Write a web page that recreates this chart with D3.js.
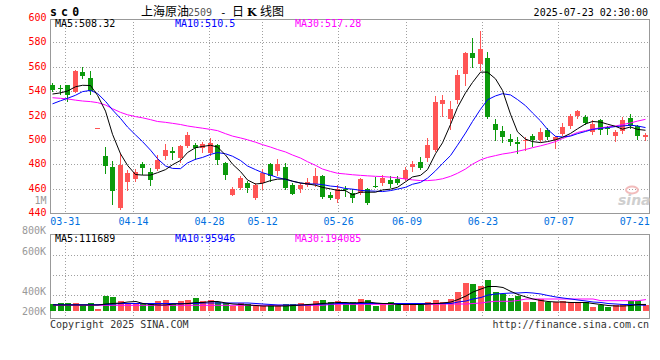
<!DOCTYPE html>
<html><head><meta charset="utf-8">
<script src="https://cdn.jsdelivr.net/npm/d3@7"></script>
<style>body{margin:0;background:#fff}svg{display:block}text{font-family:"DejaVu Sans Mono",monospace}</style>
</head><body><svg id="c" width="660" height="360"></svg>
<script>
const dates = ["03-27","03-28","03-31","04-01","04-02","04-03","04-07","04-08","04-09","04-10","04-11","04-14","04-15","04-16","04-17","04-18","04-21","04-22","04-23","04-24","04-25","04-28","04-29","04-30","05-06","05-07","05-08","05-09","05-12","05-13","05-14","05-15","05-16","05-19","05-20","05-21","05-22","05-23","05-26","05-27","05-28","05-29","05-30","06-03","06-04","06-05","06-06","06-09","06-10","06-11","06-12","06-13","06-16","06-17","06-18","06-19","06-20","06-23","06-24","06-25","06-26","06-27","06-30","07-01","07-02","07-03","07-04","07-07","07-08","07-09","07-10","07-11","07-14","07-15","07-16","07-17","07-18","07-21","07-22","07-23"];
const open  = [545.3,542.2,544.8,539.5,556,550.5,510,487,477.7,444,465.6,467.5,480,473.5,476,486.7,490.5,485.5,495,496,493.5,489,496.2,481,455,460.5,464.4,452,465,480,474.5,478,462.7,460,462.7,463.5,470.3,454.8,451.3,459.5,456.7,456.7,459.5,462.5,465,467,468,467.6,477.7,481.8,484.8,492,529.7,517,533,554,571.6,562.3,567,513,507,501,498.6,499,503.5,500.3,508.4,500.3,505.2,511.2,519.3,518.8,506.3,516,509.7,503,507,518,511.7,502.5];
const high  = [546.5,544.8,545,557,559.5,556.5,510,494,483,489,475,476.5,481.5,477,488,497,494,495.6,506.3,497.6,498,501.5,497,482,461,470.3,466,465,476,481,484,481,464.4,464.4,468.4,476.6,471,457.3,463,462,459.5,468.4,460.5,469.5,470.9,470.3,470.3,477.5,482.6,485.8,501.4,535.6,537,532,557,572,584,589,572.4,517,511,505,502.4,502.4,505,509.8,510,503.5,514,521.5,524.8,520.7,516,517,511.7,508.4,518.8,521,512,505.7];
const low   = [539.8,537.7,532.2,539,551,538,510,472.5,447.5,443,459,466,472,463,475,484,484,482,494,484,490,488,480,468,454.5,460,457,451.5,460,466,471,460,455.5,457.3,462,462,452,451.5,449,454,449,456,447.5,461,463,461,464,467,474.4,476,483,491,520,509,530,545,559.6,557.4,518,499.7,498,496,489,492,495,499,501,493.5,504,510,518,513,505,505,505.2,499,506,510,500.8,500.3];
const close = [541,542,536.5,556.5,552.5,540.5,510,478.5,458,479,472.5,474,477,467,483.5,491.5,489,494.8,504.4,493,496.3,497.5,483.5,471,459.5,468.4,460.5,463,472.5,470.3,480,460.5,456,463,465.7,470.3,453.2,452,459.5,458.5,452.6,467.6,447.8,462,468.4,463.5,465,475.2,480,477,496.2,530.8,533,525.6,553.3,571.6,567,574.6,518.8,508.4,502.4,498,496.7,500.3,499.7,506.5,502.4,502.4,510.6,519.9,523.4,514,513.3,508.4,509.2,506.3,516,511.2,503.5,504.4];
const ma5  = [538,539,540.5,544,545.2,545,537,524,505,489,479.5,472,471.5,471.5,473.5,476,480,483.5,490,494,495,496,494.5,488,480.5,474.4,467.5,464.2,464.8,467,468.2,468.3,466.5,465,464.3,463.2,461.4,460.2,459,458.8,455.3,457.5,457.5,457.5,459.3,460,461.5,466,470,471.3,476,489,498,513,527,539,547.5,556,556,550.5,541,521.5,507,501,499,498.2,499,500.5,502.5,505.7,509.5,513.5,515.5,515,513.3,511.5,509.2,511,509,508.32];
const ma10 = [530,532.5,534.5,537,540,541,538.5,532,525,518,511,504.5,499,492,485,479,477,476.8,481.5,484.5,486,488.5,490,489,487,483.5,479,476,473.5,471.5,469.5,468,466.5,465,464.3,464.2,463.7,462.5,462,460.5,460,459,458.6,458.3,458,458.8,460,461.5,464,465.5,469,475,481,487.5,496,506,515.5,525.5,533.3,536.5,538.3,537.3,533.5,528.5,522.5,516,509,503.3,502.8,503.5,505.5,507.3,509,509.8,510.5,511.3,511.8,512.5,511.8,510.5];
const ma30 = [535,534.5,534,533,532.3,531.8,531,529,526,523,521,519.5,518.5,517,515.5,514.8,514,513,511.8,510.8,510,509,508,505.5,503.5,502,500.5,498.5,496.5,494.5,492.5,490.5,488,485.5,482.5,479.5,476.5,474.5,473,472.4,471.8,471.3,470.9,470.5,470.3,469.8,469.2,468.3,467.6,467,467,467.5,468.5,470.5,473,476.5,480.5,484,486,487.5,488.8,489.8,491,492.5,494,495.5,497,499,501.5,504,506.5,508,509.3,510.3,511,511.8,513,514.3,515.8,517.28];
const volume = [119000,136000,136000,136000,102000,136000,39000,260000,243000,170000,136000,119000,119000,136000,170000,187000,119000,170000,187000,221000,170000,187000,148000,136000,90000,131000,119000,80000,80000,102000,80000,114000,114000,136000,124000,170000,187000,148000,170000,131000,148000,204000,182000,85000,119000,148000,119000,119000,119000,119000,148000,187000,148000,204000,328000,476000,459000,425000,527000,328000,289000,226000,255000,148000,148000,204000,148000,158000,170000,158000,148000,148000,63000,102000,73000,102000,119000,170000,170000,102000];
const volMa5  = [102000,102000,102000,102000,102000,102000,102000,119000,127500,136000,153000,161500,127500,110500,102000,102000,119000,119000,127500,144500,144500,161500,161500,136000,119000,110500,102000,93500,85000,85000,85000,85000,93500,102000,110500,119000,127500,136000,144500,144500,136000,144500,153000,136000,127500,127500,110500,110500,110500,110500,119000,127500,136000,153000,195500,255000,323000,374000,416500,416500,399500,331500,280500,238000,204000,178500,161500,153000,153000,144500,144500,144500,127500,110500,93500,85000,85000,93500,110500,111689];
const volMa10 = [107100,107100,107100,107100,107100,107100,107100,110500,119000,127500,127500,127500,127500,127500,127500,127500,127500,127500,127500,127500,136000,136000,136000,136000,136000,136000,136000,127500,119000,110500,102000,102000,102000,102000,102000,110500,119000,119000,127500,127500,127500,127500,127500,127500,127500,127500,127500,127500,127500,127500,127500,127500,127500,127500,153000,170000,204000,229500,272000,289000,297500,306000,306000,314500,306000,289000,263500,238000,221000,204000,187000,170000,153000,144500,127500,119000,110500,110500,102000,95946];
const volMa30 = [96900,96900,96900,96900,96900,96900,96900,96900,96900,96900,96900,96900,96900,96900,96900,96900,96900,96900,96900,96900,96900,96900,96900,96900,96900,96900,96900,96900,96900,96900,96900,96900,96900,96900,96900,96900,96900,113900,113900,113900,113900,113900,113900,113900,113900,113900,113900,113900,113900,113900,113900,113900,119000,119000,119000,119000,127500,136000,153000,164900,164900,164900,178500,204000,204000,204000,204000,204000,204000,204000,204000,204000,204000,175100,175100,175100,175100,175100,175100,194085];
const priceTicks = [600,580,560,540,520,500,480,460,440];
const dateTicks = ["03-31","04-14","04-28","05-12","05-26","06-09","06-23","07-07","07-21"];
const volTickLabels = ["800K","600K","400K","200K"];

const RED = "#ff5555", GREEN = "#0c9a0c", GRID = "#a0a0a0", FRAME = "#999";
const svg = d3.select("#c");
const N = dates.length;
const x = d3.scaleBand().domain(d3.range(N)).range([50, 650]);
const xg = d3.scalePoint().domain(d3.range(N)).range([50, 650]);
const y = d3.scaleLinear().domain([440, 600]).range([213.5, 18.5]);
const yv = d3.scaleLinear().domain([0, 1292000]).range([311, 235]);
const L = i => Math.round(x(i));
const half = v => Math.floor(v) + 0.5;
const isUp = i => close[i] >= open[i];

// ---------- header ----------
svg.append("text").attr("x", 50).attr("y", 16).attr("font-size", 11.5).attr("font-weight", "bold")
  .attr("letter-spacing", 4.2).text("sc0");
const tg = svg.append("g").attr("font-family", "'Noto Sans CJK SC'");
tg.append("text").attr("x", 141).attr("y", 15.5).attr("font-size", 12).style("font-family", "'Noto Sans CJK SC'").text("上海原油");
tg.append("text").attr("x", 188).attr("y", 15.5).attr("font-size", 10).attr("fill", "#555").text("2509");
tg.append("text").attr("x", 220).attr("y", 15.5).attr("font-size", 11).text("-");
tg.append("text").attr("x", 232).attr("y", 15.5).attr("font-size", 12).style("font-family", "'Noto Sans CJK SC'").text("日");
tg.append("text").attr("x", 247).attr("y", 15.5).attr("font-size", 11).attr("font-weight", "bold").style("font-family", "'DejaVu Serif',serif").text("K");
tg.append("text").attr("x", 260).attr("y", 15.5).attr("font-size", 12).style("font-family", "'Noto Sans CJK SC'").text("线图");
svg.append("text").attr("x", 648).attr("y", 16).attr("font-size", 10).attr("text-anchor", "end").text("2025-07-23 02:30:00");

// ---------- main grid ----------
const g = svg.append("g").attr("shape-rendering", "crispEdges");
priceTicks.filter(v => v < 600 && v > 440).forEach(v => {
  g.append("line").attr("x1", 50).attr("x2", 649).attr("y1", half(y(v))).attr("y2", half(y(v)))
    .attr("stroke", GRID).attr("stroke-dasharray", "1,2");
});
const gridIdx = dateTicks.map(d => dates.indexOf(d));
gridIdx.slice(0, -1).forEach(i => {
  const gx = half(xg(i));
  g.append("line").attr("x1", gx).attr("x2", gx).attr("y1", 19).attr("y2", 213).attr("stroke", GRID).attr("stroke-dasharray", "1,2");
  g.append("line").attr("x1", gx).attr("x2", gx).attr("y1", 234).attr("y2", 318).attr("stroke", GRID).attr("stroke-dasharray", "1,2");
});
// volume horizontal grid
[255, 275, 295].forEach(r => g.append("line").attr("x1", 50).attr("x2", 649).attr("y1", r + 0.5).attr("y2", r + 0.5)
  .attr("stroke", GRID).attr("stroke-dasharray", "1,2"));

// frames
g.append("path").attr("d", "M50.5,19.5H649.5V213.5H50.5Z").attr("fill", "none").attr("stroke", FRAME);
g.append("path").attr("d", "M50.5,234.5H649.5V318.5H50.5Z").attr("fill", "none").attr("stroke", FRAME);

// watermark
const wm = svg.append("g");
wm.append("ellipse").attr("cx", 632).attr("cy", 190).attr("rx", 6).attr("ry", 3.5).attr("fill", "none").attr("stroke", "#f2bcbc").attr("stroke-width", 2);
wm.append("text").attr("x", 618).attr("y", 205).attr("font-size", 14).attr("font-weight", "bold").attr("font-style", "italic")
  .attr("fill", "#cfcfcf").style("font-family", "'DejaVu Sans',sans-serif").text("sina");

// ---------- price labels ----------
priceTicks.forEach(v => {
  svg.append("text").attr("x", 46.5).attr("y", y(v) - 1).attr("dy", "0.35em").attr("font-size", 10)
    .attr("text-anchor", "end").attr("fill", "#f00").text(v);
});
svg.append("text").attr("x", 46.5).attr("y", 200).attr("dy", "0.35em").attr("font-size", 10)
  .attr("text-anchor", "end").attr("fill", "#999").text("1M");
// date labels
gridIdx.forEach((i, k) => {
  svg.append("text").attr("x", xg(i)).attr("y", 221.5).attr("dy", "0.35em").attr("font-size", 10)
    .attr("text-anchor", "middle").attr("fill", "#0070e0").text(dateTicks[k]);
});
// volume labels at frame/grid rows
const volLabelRows = [234, 255, 295, 315];
volTickLabels.forEach((t, k) => {
  svg.append("text").attr("x", 46).attr("y", volLabelRows[k] - 4).attr("dy", "0.35em").attr("font-size", 10)
    .attr("text-anchor", "end").attr("fill", "#999").text(t);
});

// ---------- candles ----------
const cg = svg.append("g").attr("shape-rendering", "crispEdges");
d3.range(N).forEach(i => {
  const col = isUp(i) ? RED : GREEN;
  const yh = Math.floor(y(high[i])), yl = Math.floor(y(low[i]));
  cg.append("rect").attr("x", L(i) + 2).attr("y", yh).attr("width", 1).attr("height", Math.max(1, yl - yh + 1)).attr("fill", col);
  const yt = Math.floor(y(Math.max(open[i], close[i]))), yb = Math.floor(y(Math.min(open[i], close[i])));
  cg.append("rect").attr("x", L(i)).attr("y", yt).attr("width", 5).attr("height", Math.max(1, yb - yt)).attr("fill", col);
});
// MA lines
const line = d3.line().x((d, i) => L(i) + 2.5).y(d => y(d));
[[ma30, "#ff00ff"], [ma10, "#0000ff"], [ma5, "#000"]].forEach(([arr, c]) => {
  svg.append("path").attr("d", line(arr)).attr("fill", "none").attr("stroke", c).attr("stroke-width", 1);
});

// ---------- volume ----------
const vg = svg.append("g").attr("shape-rendering", "crispEdges");
d3.range(N).forEach(i => {
  const top = Math.round(yv(volume[i]));
  vg.append("rect").attr("x", L(i)).attr("y", top).attr("width", 6).attr("height", 311 - top)
    .attr("fill", isUp(i) ? RED : GREEN);
});
const vline = d3.line().x((d, i) => L(i) + 3).y(d => yv(d));
[[volMa30, "#ff00ff"], [volMa10, "#0000ff"], [volMa5, "#000"]].forEach(([arr, c]) => {
  svg.append("path").attr("d", vline(arr)).attr("fill", "none").attr("stroke", c).attr("stroke-width", 1);
});

// ---------- legends ----------
const leg = (yy, items) => items.forEach(([t, c, xx]) =>
  svg.append("text").attr("x", xx).attr("y", yy).attr("font-size", 10).attr("fill", c).text(t));
leg(27, [["MA5:" + ma5[N - 1], "#000", 55], ["MA10:" + ma10[N - 1], "#0000ff", 175], ["MA30:" + ma30[N - 1], "#ff00ff", 295]]);
leg(242, [["MA5:" + volMa5[N - 1], "#000", 55], ["MA10:" + volMa10[N - 1], "#0000ff", 175], ["MA30:" + volMa30[N - 1], "#ff00ff", 295]]);

// footer
svg.append("text").attr("x", 50).attr("y", 328).attr("font-size", 10).attr("fill", "#333").text("Copyright 2025 SINA.COM");
svg.append("text").attr("x", 649).attr("y", 328).attr("font-size", 10).attr("fill", "#333").attr("text-anchor", "end").text("http://finance.sina.com.cn");
</script></body></html>
